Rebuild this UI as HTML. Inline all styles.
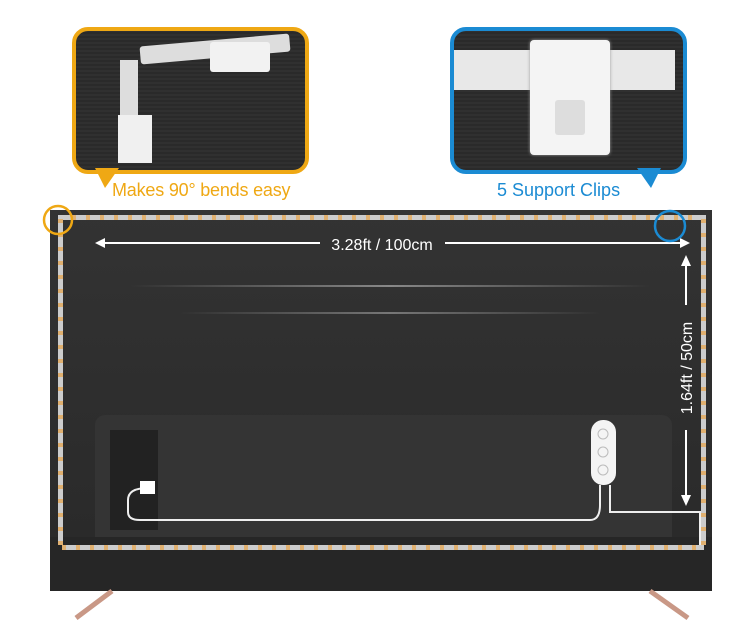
<!DOCTYPE html>
<html><head><style>
body{margin:0;width:750px;height:631px;background:#fff;position:relative;overflow:hidden;font-family:"Liberation Sans",sans-serif}
.a{position:absolute}
.dark{background:repeating-linear-gradient(0deg,#2a2a2a 0 2px,#303030 2px 4px)}
</style></head><body>
<!-- left callout -->
<div class="a dark" style="left:72px;top:27px;width:229px;height:139px;border:4px solid #efa814;border-radius:16px"></div>
<div class="a" style="left:95px;top:168px;width:0;height:0;border-left:10px solid transparent;border-right:14px solid transparent;border-top:20px solid #efa814"></div>
<div class="a" style="left:140px;top:40px;width:150px;height:18px;background:#ddd;transform:rotate(-5deg);border-radius:3px"></div>
<div class="a" style="left:210px;top:42px;width:60px;height:30px;background:#f2f2f2;border-radius:3px"></div>
<div class="a" style="left:120px;top:60px;width:18px;height:60px;background:#ddd"></div>
<div class="a" style="left:118px;top:115px;width:34px;height:48px;background:#f0f0f0"></div>
<div class="a" style="left:112px;top:180px;color:#efa814;font-size:18px;letter-spacing:-0.2px">Makes 90° bends easy</div>
<!-- right callout -->
<div class="a dark" style="left:450px;top:27px;width:229px;height:139px;border:4px solid #1b8bd3;border-radius:16px"></div>
<div class="a" style="left:637px;top:168px;width:0;height:0;border-left:14px solid transparent;border-right:10px solid transparent;border-top:20px solid #1b8bd3"></div>
<div class="a" style="left:454px;top:50px;width:221px;height:40px;background:#e8e8e8"></div>
<div class="a" style="left:530px;top:40px;width:80px;height:115px;background:#f4f4f4;border-radius:4px;box-shadow:0 0 3px #999"></div>
<div class="a" style="left:555px;top:100px;width:30px;height:35px;background:#ddd;border-radius:3px"></div>
<div class="a" style="left:497px;top:180px;color:#1b8bd3;font-size:18px">5 Support Clips</div>
<!-- TV -->
<div class="a" style="left:50px;top:210px;width:662px;height:330px;background:linear-gradient(180deg,#333,#2a2a2a)"></div>
<div class="a" style="left:50px;top:537px;width:662px;height:54px;background:#262626"></div>
<div class="a" style="left:130px;top:285px;width:520px;height:2px;background:linear-gradient(90deg,transparent,#888,transparent)"></div>
<div class="a" style="left:180px;top:312px;width:420px;height:2px;background:linear-gradient(90deg,transparent,#777,transparent)"></div>
<!-- LED strips -->
<div class="a" style="left:58px;top:215px;width:648px;height:5px;background:repeating-linear-gradient(90deg,#e0b070 0 4px,#ccc 4px 14px)"></div>
<div class="a" style="left:58px;top:215px;width:5px;height:330px;background:repeating-linear-gradient(0deg,#e0b070 0 4px,#ccc 4px 14px)"></div>
<div class="a" style="left:701px;top:215px;width:5px;height:330px;background:repeating-linear-gradient(0deg,#e0b070 0 4px,#ccc 4px 14px)"></div>
<div class="a" style="left:62px;top:545px;width:642px;height:5px;background:repeating-linear-gradient(90deg,#e0b070 0 4px,#ccc 4px 14px)"></div>
<!-- inner box -->
<div class="a" style="left:95px;top:415px;width:577px;height:122px;background:#343434;border-radius:10px 10px 0 0"></div>
<div class="a" style="left:110px;top:430px;width:48px;height:100px;background:#222"></div>
<svg class="a" style="left:0;top:0" width="750" height="631">
<path d="M112 591 L76 618 M650 591 L688 618" stroke="#c99886" stroke-width="5" fill="none"/>
<path d="M148 488 Q128 488 128 500 L128 512 Q128 520 140 520 L590 520 Q600 520 600 505 L600 485" stroke="#eee" stroke-width="2" fill="none"/>
<path d="M610 485 L610 512 L700 512 L700 545" stroke="#eee" stroke-width="2" fill="none"/>
<rect x="140" y="481" width="15" height="13" fill="#fff"/>
<rect x="591" y="420" width="25" height="65" rx="12" fill="#f4f4f4"/>
<circle cx="603" cy="434" r="5" stroke="#bbb" fill="none"/><circle cx="603" cy="452" r="5" stroke="#bbb" fill="none"/><circle cx="603" cy="470" r="5" stroke="#bbb" fill="none"/>
<line x1="100" y1="243" x2="320" y2="243" stroke="#fff" stroke-width="2"/>
<line x1="445" y1="243" x2="685" y2="243" stroke="#fff" stroke-width="2"/>
<path d="M95 243 L105 238 L105 248Z M690 243 L680 238 L680 248Z" fill="#fff"/>
<line x1="686" y1="260" x2="686" y2="305" stroke="#fff" stroke-width="2"/>
<line x1="686" y1="430" x2="686" y2="500" stroke="#fff" stroke-width="2"/>
<path d="M686 255 L681 266 L691 266Z M686 506 L681 495 L691 495Z" fill="#fff"/>
<text x="382" y="250" fill="#fff" font-size="16" text-anchor="middle" font-family="Liberation Sans">3.28ft / 100cm</text>
<text x="0" y="0" fill="#fff" font-size="16" text-anchor="middle" font-family="Liberation Sans" transform="translate(692,368) rotate(-90)">1.64ft / 50cm</text>
<circle cx="58" cy="220" r="14" stroke="#efa814" stroke-width="2.5" fill="none"/>
<circle cx="670" cy="226" r="15" stroke="#1b8bd3" stroke-width="2.5" fill="none"/>
</svg>
</body></html>
